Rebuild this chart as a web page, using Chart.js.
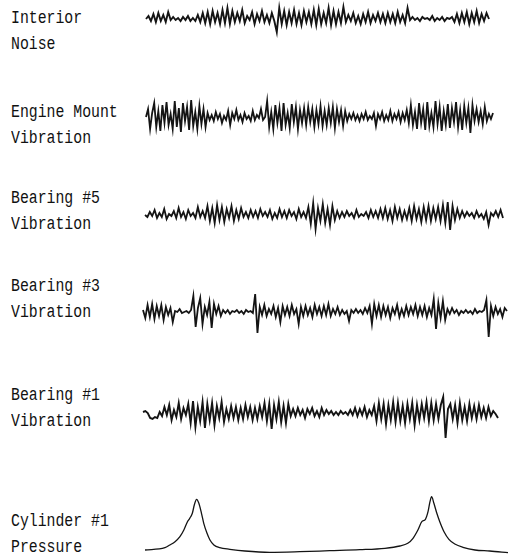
<!DOCTYPE html>
<html>
<head>
<meta charset="utf-8">
<script src="https://cdn.jsdelivr.net/npm/chart.js@4/dist/chart.umd.min.js"></script>
<style>
  html, body { margin: 0; padding: 0; background: #fff; }
  #sheet { position: relative; width: 511px; height: 560px; overflow: hidden; background: #fff; }
  .lbl { position: absolute; left: 11px; font-family: "Liberation Mono", "DejaVu Sans Mono", monospace;
         font-size: 19px; line-height: 26px; color: #111; white-space: pre;
         transform: scaleX(0.78); transform-origin: 0 0; }
  canvas { position: absolute; }
</style>
</head>
<body>
<div id="sheet"></div>
<script>
// Channel captions (two lines each)
const traceLabels = [
  "Interior\nNoise",
  "Engine Mount\nVibration",
  "Bearing #5\nVibration",
  "Bearing #3\nVibration",
  "Bearing #1\nVibration",
  "Cylinder #1\nPressure"
];

// Vibration / noise records (relative amplitude, equal time steps)
const interiorNoise = [
  0,3,-2,5,-3,6,-2,4,-3,7,-1,
  2,-1,1,-2,2,-1,3,-2,1,-2,4,-3,
  6,-4,7,-5,8,-3,6,-5,9,-4,11,-5,8,
  -3,6,-2,9,-4,3,-1,7,-5,5,-2,8,-3,4,-4,6,-2,
  -13,11,
  -5,8,-6,7,-4,9,-5,6,-6,8,-3,7,-5,9,-6,10,-5,6,-4,11,-6,8,-5,7,-4,12,
  -3,4,-2,6,-4,3,-5,5,-3,7,-4,4,-2,6,-3,
  5,-4,6,-3,5,-4,7,-3,4,-4,
  11,
  -1,2,-1,1,-2,2,0,1,-1,3,-2,1,-1,2,-2,1,0,2,
  -3,5,-4,6,-3,7,-5,6,-3,8,-4,5,-2,6,0
];

const engineMount = [
  0,8,-12,4,14,-10,6,-14,12,-6,15,-8,3,-12,16,-10,9,-15,14,-4,10,-13,17,-9,5,-12,11,-7,8,-10,4,
  -3,2,-4,5,-2,3,-6,1,-3,6,-8,4,-2,7,-3,2,-5,4,-2,1,-4,6,-3,2,-1,8,-3,0,
  16,-10,5,-12,12,-6,9,-14,14,-8,4,-11,13,-5,10,-12,7,
  -6,9,-8,10,-5,8,-10,7,-7,11,-9,6,-8,9,-6,10,-11,8,-5,7,-9,6,-4,
  3,-2,4,-3,2,-4,3,-2,5,-3,1,-2,4,-9,3,-2,5,-4,2,-3,6,-4,3,-2,5,-5,4,-3,7,
  -6,12,-8,5,-12,14,-6,8,-13,15,-9,4,-10,16,-7,10,-14,6,-8,13,-11,9,-5,15,-10,7,-13,11,-6,9,-16,12,-4,
  8,-5,6,-7,10,-4,3,-2,4
];

const bearing5 = [
  0,-2,3,-1,5,-3,2,-2,6,-4,1,-1,4,-3,7,-2,3,-4,5,-1,2,-3,8,-2,4,-3,
  9,-6,7,-8,10,-5,8,-7,6,-3,9,-6,5,-4,7,-2,3,
  -3,5,-2,4,-3,6,-1,3,-2,5,-4,2,-3,6,-2,4,-3,5,-1,3,-4,6,-2,3,-3,
  8,-9,12,-14,7,-6,11,-8,6,-10,9,-5,4,-3,
  3,-2,4,-1,2,-3,5,-2,1,-1,3,-3,5,-2,4,-3,6,
  -3,7,-4,5,-6,8,-3,6,-5,4,-4,7,-6,9,-4,6,-7,8,-5,9,-6,7,-4,8,
  -6,10,-8,13,-15,9,-5,6,
  -3,4,-2,3,-1,2,-3,4,-2,1,-4,3,-10,2,-1,4,-2,5,-3
];

const bearing3 = [
  2,-6,7,-5,8,-7,6,-4,7,-8,5,-3,4,-10,
  1,0,3,-1,0,1,-1,2,
  16,-15,4,14,-12,5,-3,10,-16,8,-2,6,-4,2,
  -1,2,-2,1,0,2,-1,1,-2,2,0,1,-1,
  18,-21,
  5,-3,7,-4,3,-2,6,-5,4,-10,6,-3,5,-4,7,-2,3,-12,5,-4,6,-3,4,-5,7,-2,5,-4,6,-3,8,-4,3,-2,5,-3,
  2,-2,1,-9,2,-1,3,-1,2,-2,4,-1,
  6,-12,8,-4,7,-5,6,-3,5,-6,4,-2,7,-5,3,-4,6,-3,5,-2,7,-4,5,-3,6,-5,4,-3,
  13,-17,9,-6,11,-8,
  3,-2,4,-1,2,-3,1,-1,2,-1,1,-2,3,-1,1,0,2,
  12,-25,6,
  -4,5,-2,3,-5,4,1
];

const bearing1 = [
  1,2,0,-5,-6,-4,-5,
  1,-3,6,-2,8,-7,3,-4,10,-6,5,-2,9,
  -10,12,-14,6,-8,11,-15,9,-7,10,-12,7,-5,11,-9,4,
  -6,7,-5,6,-7,5,-6,8,-4,6,-7,5,-6,7,
  -4,10,-8,9,-16,8,-6,11,-9,7,-10,9,-3,
  4,-3,5,-2,3,-5,4,-1,5,-3,2,-4,5,-2,3,
  -1,2,-2,1,-2,2,-1,1,-2,
  3,-2,5,-3,4,-2,6,-4,3,-2,7,
  -8,10,-6,9,-11,8,-7,11,-9,10,-8,7,-10,9,-6,10,-12,8,-7,9,-5,11,-8,10,-7,9,-6,8,
  16,-25,4,
  9,-6,8,-10,10,-7,6,-8,9,-5,7,-6,8,-4,5,-5,6,-3,2,-1,-5
];

// Cylinder pressure against crank angle (deg, firing TDC at 0 and 720)
const crankAngle = [
  -158,-97,-82,-66,-51,-39,-28,-21,-13,-7,0,7,15,22,32,41,53,71,102,148,224,316,408,500,577,
  623,647,663,678,690,701,709,715,720,727,736,745,758,773,791,816,853,898,954
];
const cylinderPressure = [
  2.7,5,7.7,11,16,22.7,31,34.4,39.4,47.7,53.4,49.4,39.4,29.4,19.4,12.7,7.7,5,3.4,1.7,0.4,1,2,3,4.4,
  6.7,9.4,14.4,22.7,31,33.4,41,51,56,49.4,39.4,31,21,13.4,8.7,5.4,2.7,1.7,0
];

const sheet = document.getElementById('sheet');
const INK = '#141414';

// caption blocks, top of first line in px
const captionTops = [5, 99, 185, 273, 382, 508];
traceLabels.forEach((t, i) => {
  const d = document.createElement('div');
  d.className = 'lbl';
  d.style.top = captionTops[i] + 'px';
  d.textContent = t;
  sheet.appendChild(d);
});

const baseOptions = (xScale, yMin, yMax, pad) => ({
  responsive: false,
  animation: false,
  devicePixelRatio: 1,
  events: [],
  layout: { padding: { left: pad, right: pad, top: 0, bottom: 0 } },
  plugins: { legend: { display: false }, tooltip: { enabled: false } },
  scales: {
    x: Object.assign({ display: false }, xScale),
    y: { display: false, min: yMin, max: yMax }
  }
});

function makeCanvas(left, top, w, h) {
  const c = document.createElement('canvas');
  c.width = w; c.height = h;
  c.style.left = left + 'px'; c.style.top = top + 'px';
  c.style.width = w + 'px'; c.style.height = h + 'px';
  sheet.appendChild(c);
  return c;
}

// one strip chart per vibration channel; 1 amplitude unit = 1 px
function strip(values, left, right, mid, halfH, width) {
  const pad = 2;
  const c = makeCanvas(left - pad, mid - halfH, right - left + 2 * pad, 2 * halfH);
  new Chart(c, {
    type: 'line',
    data: {
      labels: values.map((_, i) => i),
      datasets: [{ data: values, borderColor: INK, borderWidth: width, pointRadius: 0,
                   tension: 0, fill: false, clip: false, borderJoinStyle: 'miter' }]
    },
    options: baseOptions({}, -halfH, halfH, pad)
  });
}

strip(interiorNoise, 146, 489, 19, 19, 1.9);
strip(engineMount, 146, 493, 117, 26, 1.8);
strip(bearing5, 145, 503, 215, 22, 1.8);
strip(bearing3, 143, 507, 312, 30, 1.8);
strip(bearing1, 143, 498, 413, 30, 1.9);

// pressure trace
(function () {
  const pad = 2, top = 485, h = 75, base = 552.7;
  const c = makeCanvas(145 - pad, top, 508 - 145 + 2 * pad, h);
  new Chart(c, {
    type: 'line',
    data: {
      datasets: [{
        data: crankAngle.map((a, i) => ({ x: a, y: cylinderPressure[i] })),
        borderColor: INK, borderWidth: 1.3, pointRadius: 0, fill: false, clip: false,
        cubicInterpolationMode: 'monotone'
      }]
    },
    options: baseOptions({ type: 'linear', min: -158, max: 954 }, base - (top + h), base - top, pad)
  });
})();
</script>
</body>
</html>
